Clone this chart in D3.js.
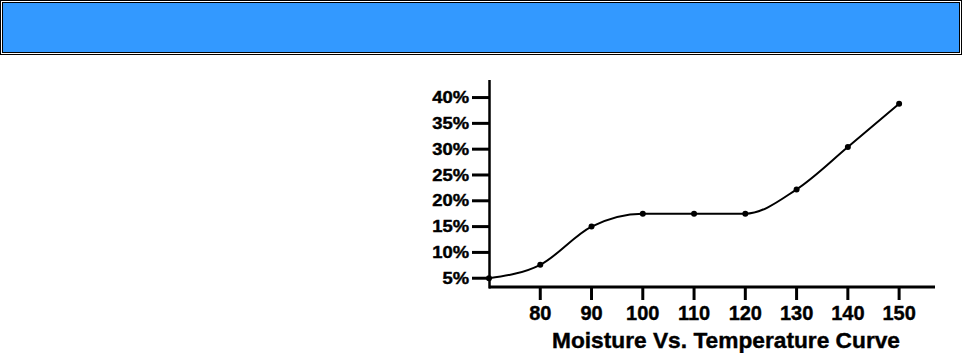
<!DOCTYPE html>
<html><head><meta charset="utf-8">
<script src="https://cdn.jsdelivr.net/npm/d3@7"></script>
<style>html,body{margin:0;padding:0;background:#fff;}svg{display:block;}</style>
</head><body>
<script>
const temps = [70, 80, 90, 100, 110, 120, 130, 140, 150];
const moisture = [5, 7.6, 15, 17.5, 17.5, 17.5, 22.2, 30.4, 38.8];
const xTicks = [80, 90, 100, 110, 120, 130, 140, 150];
const yTicks = [5, 10, 15, 20, 25, 30, 35, 40];
const title = "Moisture Vs. Temperature Curve";

const W = 964, H = 353;
const svg = d3.select("body").append("svg").attr("width", W).attr("height", H);

// header banner
svg.append("rect").attr("x", 0.5).attr("y", 0.5).attr("width", 961).attr("height", 54)
  .attr("fill", "none").attr("stroke", "#000").attr("stroke-width", 1);
svg.append("rect").attr("x", 2.5).attr("y", 2.5).attr("width", 957).attr("height", 50)
  .attr("fill", "#3399FF").attr("stroke", "#000").attr("stroke-width", 1);

const x = d3.scaleLinear().domain([70, 157]).range([489, 935]);
const y = d3.scaleLinear().domain([3.3, 43.4]).range([287, 80]);

const font = "'Liberation Sans', Arial, Helvetica, sans-serif";

// y axis line
svg.append("line").attr("x1", x(70) + 0.5).attr("x2", x(70) + 0.5)
  .attr("y1", y(43.4)).attr("y2", y(3.3) + 1.5)
  .attr("stroke", "#000").attr("stroke-width", 2.5);
// x axis line
svg.append("line").attr("x1", x(70)).attr("x2", x(157))
  .attr("y1", y(3.3)).attr("y2", y(3.3))
  .attr("stroke", "#000").attr("stroke-width", 3);

// y ticks
const yg = svg.append("g");
yTicks.forEach(v => {
  yg.append("line").attr("x1", 472).attr("x2", x(70)).attr("y1", y(v)).attr("y2", y(v))
    .attr("stroke", "#000").attr("stroke-width", 3);
  yg.append("text").attr("transform", `translate(469,${y(v) + 5.7}) scale(1.15,1)`)
    .attr("text-anchor", "end").attr("font-family", font).attr("font-weight", "bold")
    .attr("font-size", 16).attr("fill", "#000")
    .attr("stroke", "#000").attr("stroke-width", 0.4).text(v + "%");
});

// x ticks
const xg = svg.append("g");
xTicks.forEach(v => {
  xg.append("line").attr("x1", x(v)).attr("x2", x(v)).attr("y1", y(3.3)).attr("y2", 300)
    .attr("stroke", "#000").attr("stroke-width", 3);
  xg.append("text").attr("x", x(v)).attr("y", 320)
    .attr("text-anchor", "middle").attr("font-family", font).attr("font-weight", "bold")
    .attr("font-size", 20).attr("fill", "#000")
    .attr("stroke", "#000").attr("stroke-width", 0.4).text(v);
});

// curve
const pts = temps.map((t, i) => [t, moisture[i]]);
const line = d3.line().x(d => x(d[0])).y(d => y(d[1])).curve(d3.curveMonotoneX);
svg.append("path").datum(pts).attr("d", line)
  .attr("fill", "none").attr("stroke", "#000").attr("stroke-width", 2);
svg.selectAll("circle.pt").data(pts).enter().append("circle")
  .attr("cx", d => x(d[0])).attr("cy", d => y(d[1])).attr("r", 3).attr("fill", "#000");

// title
svg.append("text").attr("x", 726).attr("y", 348).attr("text-anchor", "middle")
  .attr("font-family", font).attr("font-weight", "bold").attr("font-size", 22)
  .attr("textLength", 348).attr("lengthAdjust", "spacingAndGlyphs")
  .attr("fill", "#000").attr("stroke", "#000").attr("stroke-width", 0.4).text(title);
</script>
</body></html>
